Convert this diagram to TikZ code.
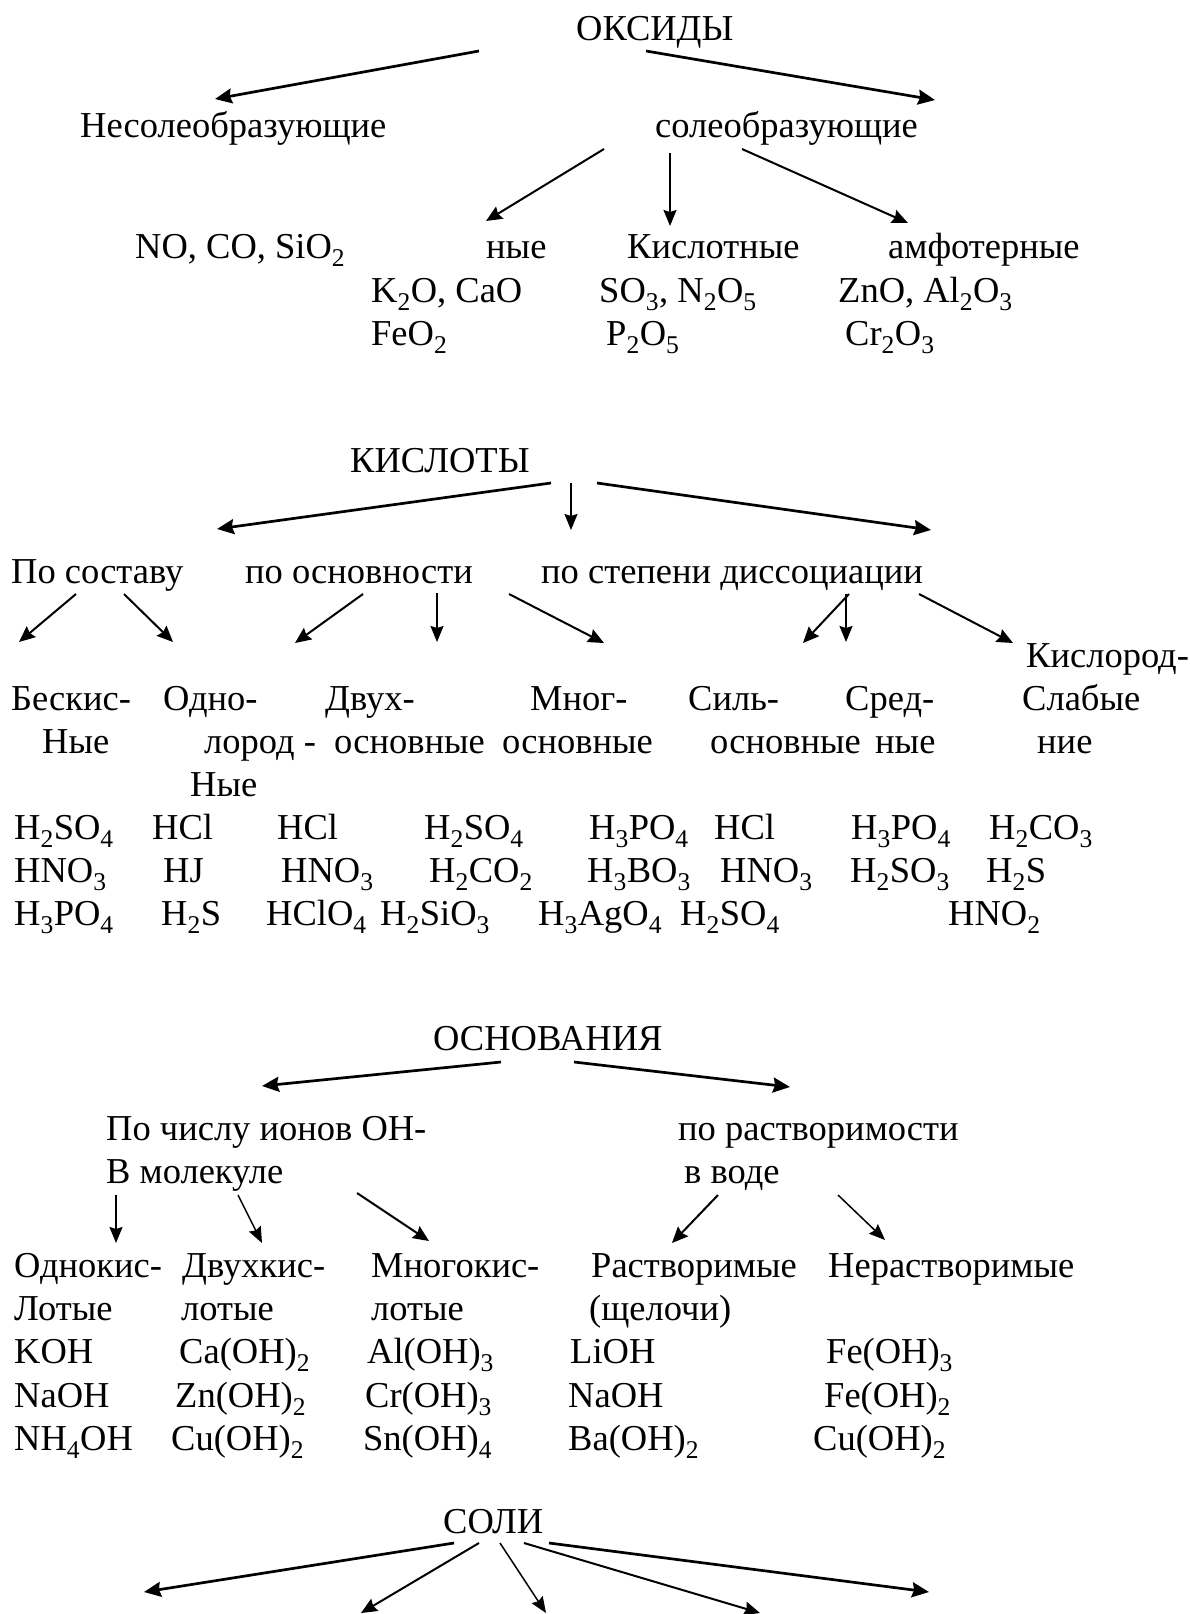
\documentclass[tikz,border=0pt]{standalone}
\usepackage{fontspec}
\setmainfont{Liberation Serif}
\usetikzlibrary{arrows.meta}
\newcommand\sbs[1]{\textsubscript{#1}}
\begin{document}
\begin{tikzpicture}[x=1pt,y=-1pt,
  lbl/.style={anchor=base west,inner sep=0pt,font=\fontsize{36.5}{43}\selectfont},
  thk/.style={line width=2.7pt,-{Stealth[length=17pt,width=15pt,inset=2pt]}},
  med/.style={line width=2pt,-{Stealth[length=16pt,width=14pt,inset=2pt]}},
  thn/.style={line width=1.5pt,-{Stealth[length=16pt,width=13pt,inset=2pt]}}]
\useasboundingbox (0,0) rectangle (1190,1614);
\fill[white] (0,0) rectangle (1190,1614);
% ---------- ОКСИДЫ
\node[lbl] (oks) at (576,40) {ОКСИДЫ};
\node[lbl] (nesol) at (80,137) {Несолеобразующие};
\node[lbl] (sol) at (655,137) {солеобразующие};
\node[lbl] (noco) at (135,258) {NO, CO, SiO\sbs{2}};
\node[lbl] (osnn) at (486,258) {ные};
\node[lbl] (kisln) at (627,258) {Кислотные};
\node[lbl] (amf) at (888,258) {амфотерные};
\node[lbl] (b1) at (371,302) {K\sbs{2}O, CaO};
\node[lbl] (k1) at (599,302) {SO\sbs{3}, N\sbs{2}O\sbs{5}};
\node[lbl] (a1) at (838,302) {ZnO, Al\sbs{2}O\sbs{3}};
\node[lbl] (b2) at (371,345) {FeO\sbs{2}};
\node[lbl] (k2) at (606,345) {P\sbs{2}O\sbs{5}};
\node[lbl] (a2) at (845,345) {Cr\sbs{2}O\sbs{3}};
\coordinate (o1a) at (479,51); \coordinate (o1b) at (215,99);
\coordinate (o2a) at (646,51); \coordinate (o2b) at (935,100);
\coordinate (o3a) at (604,149); \coordinate (o3b) at (486,221);
\coordinate (o4a) at (670,153); \coordinate (o4b) at (670,226);
\coordinate (o5a) at (742,149); \coordinate (o5b) at (908,223);
\draw[thk] (o1a) -- (o1b);
\draw[thk] (o2a) -- (o2b);
\draw[med] (o3a) -- (o3b);
\draw[thn] (o4a) -- (o4b);
\draw[med] (o5a) -- (o5b);
% ---------- КИСЛОТЫ
\node[lbl] (kis) at (350,472) {КИСЛОТЫ};
\node[lbl] (sost) at (11,583) {По составу};
\node[lbl] (osnv) at (245,583) {по основности};
\node[lbl] (diss) at (541,583) {по степени диссоциации};
\coordinate (k1a) at (551,483); \coordinate (k1b) at (217,529);
\coordinate (k2a) at (571,483); \coordinate (k2b) at (571,530);
\coordinate (k3a) at (597,483); \coordinate (k3b) at (931,530);
\draw[thk] (k1a) -- (k1b);
\draw[thn] (k2a) -- (k2b);
\draw[thk] (k3a) -- (k3b);
\coordinate (r1a) at (76,594);  \coordinate (r1b) at (19,642);
\coordinate (r2a) at (124,594); \coordinate (r2b) at (173,642);
\coordinate (r3a) at (363,594); \coordinate (r3b) at (295,643);
\coordinate (r4a) at (437,593); \coordinate (r4b) at (437,642);
\coordinate (r5a) at (509,594); \coordinate (r5b) at (604,643);
\coordinate (r6a) at (849,594); \coordinate (r6b) at (803,643);
\coordinate (r7a) at (846,594); \coordinate (r7b) at (846,642);
\coordinate (r8a) at (919,594); \coordinate (r8b) at (1013,643);
\draw[med] (r1a) -- (r1b);
\draw[med] (r2a) -- (r2b);
\draw[med] (r3a) -- (r3b);
\draw[thn] (r4a) -- (r4b);
\draw[med] (r5a) -- (r5b);
\draw[med] (r6a) -- (r6b);
\draw[thn] (r7a) -- (r7b);
\draw[med] (r8a) -- (r8b);
\node[lbl] (kisrod) at (1026,667) {Кислород-};
\node[lbl] (besk) at (11,710) {Бескис-};
\node[lbl] (odno) at (163,710) {Одно-};
\node[lbl] (dvuh) at (325,710) {Двух-};
\node[lbl] (mnog) at (530,710) {Мног-};
\node[lbl] (sil) at (688,710) {Силь-};
\node[lbl] (sred) at (845,710) {Сред-};
\node[lbl] (slab) at (1022,710) {Слабые};
\node[lbl] (nye1) at (42,753) {Ные};
\node[lbl] (lorod) at (204,753) {лород -};
\node[lbl] (osn1) at (334,753) {основные};
\node[lbl] (osn2) at (502,753) {основные};
\node[lbl] (osn3) at (710,753) {основные};
\node[lbl] (nye2) at (875,753) {ные};
\node[lbl] (nie) at (1037,753) {ние};
\node[lbl] (nye3) at (190,796) {Ные};
\node[lbl] (c11) at (14,839) {H\sbs{2}SO\sbs{4}};
\node[lbl] (c12) at (152,839) {HCl};
\node[lbl] (c13) at (277,839) {HCl};
\node[lbl] (c14) at (424,839) {H\sbs{2}SO\sbs{4}};
\node[lbl] (c15) at (589,839) {H\sbs{3}PO\sbs{4}};
\node[lbl] (c16) at (714,839) {HCl};
\node[lbl] (c17) at (851,839) {H\sbs{3}PO\sbs{4}};
\node[lbl] (c18) at (989,839) {H\sbs{2}CO\sbs{3}};
\node[lbl] (c21) at (14,882) {HNO\sbs{3}};
\node[lbl] (c22) at (163,882) {HJ};
\node[lbl] (c23) at (281,882) {HNO\sbs{3}};
\node[lbl] (c24) at (429,882) {H\sbs{2}CO\sbs{2}};
\node[lbl] (c25) at (587,882) {H\sbs{3}BO\sbs{3}};
\node[lbl] (c26) at (720,882) {HNO\sbs{3}};
\node[lbl] (c27) at (850,882) {H\sbs{2}SO\sbs{3}};
\node[lbl] (c28) at (986,882) {H\sbs{2}S};
\node[lbl] (c31) at (14,925) {H\sbs{3}PO\sbs{4}};
\node[lbl] (c32) at (161,925) {H\sbs{2}S};
\node[lbl] (c33) at (266,925) {HClO\sbs{4}};
\node[lbl] (c34) at (380,925) {H\sbs{2}SiO\sbs{3}};
\node[lbl] (c35) at (538,925) {H\sbs{3}AgO\sbs{4}};
\node[lbl] (c36) at (680,925) {H\sbs{2}SO\sbs{4}};
\node[lbl] (c37) at (948,925) {HNO\sbs{2}};
% ---------- ОСНОВАНИЯ
\node[lbl] (osnov) at (433,1050) {ОСНОВАНИЯ};
\coordinate (s1a) at (501,1062); \coordinate (s1b) at (262,1086);
\coordinate (s2a) at (574,1062); \coordinate (s2b) at (790,1087);
\draw[thk] (s1a) -- (s1b);
\draw[thk] (s2a) -- (s2b);
\node[lbl] (chislo) at (106,1140) {По числу ионов ОН-};
\node[lbl] (molek) at (106,1183) {В молекуле};
\node[lbl] (rastv) at (678,1140) {по растворимости};
\node[lbl] (voda) at (684,1183) {в воде};
\coordinate (t1a) at (116,1195); \coordinate (t1b) at (116,1243);
\coordinate (t2a) at (238,1195); \coordinate (t2b) at (262,1243);
\coordinate (t3a) at (357,1193); \coordinate (t3b) at (429,1241);
\coordinate (t4a) at (718,1195); \coordinate (t4b) at (672,1243);
\coordinate (t5a) at (838,1195); \coordinate (t5b) at (885,1240);
\draw[thn] (t1a) -- (t1b);
\draw[thn] (t2a) -- (t2b);
\draw[med] (t3a) -- (t3b);
\draw[med] (t4a) -- (t4b);
\draw[thn] (t5a) -- (t5b);
\node[lbl] (odnok) at (14,1277) {Однокис-};
\node[lbl] (dvuhk) at (182,1277) {Двухкис-};
\node[lbl] (mnogk) at (371,1277) {Многокис-};
\node[lbl] (rast) at (591,1277) {Растворимые};
\node[lbl] (nerast) at (828,1277) {Нерастворимые};
\node[lbl] (lot1) at (14,1320) {Лотые};
\node[lbl] (lot2) at (181,1320) {лотые};
\node[lbl] (lot3) at (371,1320) {лотые};
\node[lbl] (shch) at (589,1320) {(щелочи)};
\node[lbl] (d11) at (14,1363) {KOH};
\node[lbl] (d12) at (179,1363) {Ca(OH)\sbs{2}};
\node[lbl] (d13) at (367,1363) {Al(OH)\sbs{3}};
\node[lbl] (d14) at (570,1363) {LiOH};
\node[lbl] (d15) at (826,1363) {Fe(OH)\sbs{3}};
\node[lbl] (d21) at (14,1407) {NaOH};
\node[lbl] (d22) at (175,1407) {Zn(OH)\sbs{2}};
\node[lbl] (d23) at (365,1407) {Cr(OH)\sbs{3}};
\node[lbl] (d24) at (568,1407) {NaOH};
\node[lbl] (d25) at (824,1407) {Fe(OH)\sbs{2}};
\node[lbl] (d31) at (14,1450) {NH\sbs{4}OH};
\node[lbl] (d32) at (171,1450) {Cu(OH)\sbs{2}};
\node[lbl] (d33) at (363,1450) {Sn(OH)\sbs{4}};
\node[lbl] (d34) at (568,1450) {Ba(OH)\sbs{2}};
\node[lbl] (d35) at (813,1450) {Cu(OH)\sbs{2}};
% ---------- СОЛИ
\node[lbl] (soli) at (443,1533) {СОЛИ};
\coordinate (u1a) at (454,1543); \coordinate (u1b) at (144,1592);
\coordinate (u2a) at (479,1543); \coordinate (u2b) at (361,1613);
\coordinate (u3a) at (500,1543); \coordinate (u3b) at (546,1613);
\coordinate (u4a) at (524,1543); \coordinate (u4b) at (760,1613);
\coordinate (u5a) at (549,1543); \coordinate (u5b) at (929,1592);
\draw[thk] (u1a) -- (u1b);
\draw[med] (u2a) -- (u2b);
\draw[thn] (u3a) -- (u3b);
\draw[med] (u4a) -- (u4b);
\draw[thk] (u5a) -- (u5b);
\end{tikzpicture}
\end{document}
